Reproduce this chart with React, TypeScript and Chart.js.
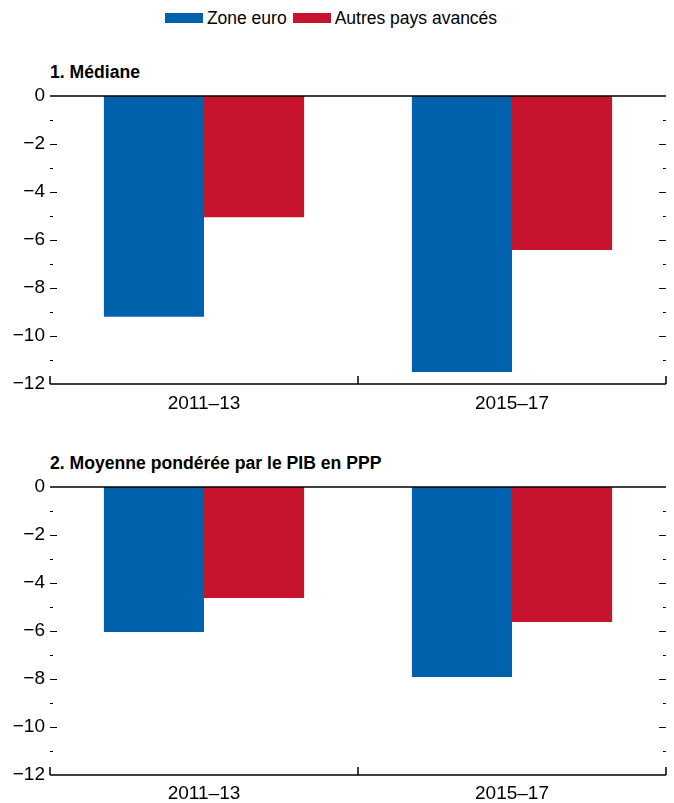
import React, { useEffect, useRef } from "react";
import { Chart, registerables } from "chart.js";

Chart.register(...registerables);

const categories = ["2011–13", "2015–17"];
const seriesNames = ["Zone euro", "Autres pays avancés"];
const seriesColors = ["#0062AD", "#C8132F"];

const medianeZoneEuro = [-9.2, -11.5];
const medianeAutres = [-5.05, -6.42];

const moyenneZoneEuro = [-6.04, -7.92];
const moyenneAutres = [-4.63, -5.63];

const yMin = -12;
const yMax = 0;
const yStep = 1;
const yLabelEvery = 2;

const panelTitles = ["1. Médiane", "2. Moyenne pondérée par le PIB en PPP"];

const NUM_FONT = "'Liberation Sans', Arial, sans-serif";

const fmt = (v: number) => (v === 0 ? "0" : (v < 0 ? "\u2212" : "") + Math.abs(v));

const axisPlugin = {
  id: "imfAxes",
  afterDatasetsDraw(chart: any) {
    const { ctx, chartArea, scales } = chart;
    const y = scales.y;
    const x = scales.x;
    const L = chartArea.left;
    const R = chartArea.right;
    ctx.save();
    ctx.strokeStyle = "#000";
    ctx.lineWidth = 1.5;
    const y0 = y.getPixelForValue(0);
    const yb = y.getPixelForValue(yMin);
    ctx.beginPath();
    ctx.moveTo(L, y0);
    ctx.lineTo(R, y0);
    ctx.moveTo(L, yb);
    ctx.lineTo(R, yb);
    ctx.stroke();
    ctx.lineWidth = 1.2;
    for (let v = yMin + yStep; v < yMax; v += yStep) {
      const py = Math.round(y.getPixelForValue(v)) + 0.5;
      const len = v % yLabelEvery === 0 ? 7 : 3;
      ctx.beginPath();
      ctx.moveTo(L, py);
      ctx.lineTo(L + len, py);
      ctx.moveTo(R, py);
      ctx.lineTo(R - len, py);
      ctx.stroke();
    }
    ctx.lineWidth = 1.5;
    const mids = [L, R];
    for (let i = 0; i < categories.length - 1; i++) {
      mids.push((x.getPixelForTick(i) + x.getPixelForTick(i + 1)) / 2);
    }
    ctx.beginPath();
    mids.forEach((px) => {
      const rx = Math.round(px);
      ctx.moveTo(rx, yb);
      ctx.lineTo(rx, yb - 8);
    });
    ctx.stroke();
    ctx.restore();
  },
};

function makeConfig(a: number[], b: number[], xHeight: number, xPad: number) {
  return {
    type: "bar" as const,
    data: {
      labels: categories,
      datasets: [
        { label: seriesNames[0], data: a, backgroundColor: seriesColors[0], borderWidth: 0 },
        { label: seriesNames[1], data: b, backgroundColor: seriesColors[1], borderWidth: 0 },
      ],
    },
    options: {
      animation: false as const,
      responsive: false,
      maintainAspectRatio: false,
      layout: { padding: { left: 0, right: 8, top: 10, bottom: 0 } },
      datasets: { bar: { categoryPercentage: 0.65, barPercentage: 1.0 } },
      plugins: { legend: { display: false }, title: { display: false }, tooltip: { enabled: false } },
      scales: {
        x: {
          grid: { display: false, drawTicks: false },
          border: { display: false },
          ticks: { color: "#000", font: { family: NUM_FONT, size: 19 }, padding: xPad, maxRotation: 0 },
          afterFit: (s: any) => {
            s.height = xHeight;
            s.paddingLeft = 0;
            s.paddingRight = 0;
          },
        },
        y: {
          min: yMin,
          max: yMax,
          grid: { display: false, drawTicks: false },
          border: { display: false },
          ticks: {
            stepSize: yStep,
            autoSkip: false,
            color: "#000",
            padding: 5,
            font: { family: NUM_FONT, size: 19 },
            callback: (v: any) => (Number(v) % yLabelEvery === 0 ? fmt(Number(v)) : ""),
          },
          afterFit: (s: any) => {
            s.width = 50;
            s.paddingTop = 0;
            s.paddingBottom = 0;
          },
        },
      },
    },
    plugins: [axisPlugin],
  };
}

function Panel(props: { a: number[]; b: number[]; top: number; height: number; xHeight: number; xPad: number }) {
  const ref = useRef<HTMLCanvasElement | null>(null);
  useEffect(() => {
    if (!ref.current) return;
    const chart = new Chart(ref.current, makeConfig(props.a, props.b, props.xHeight, props.xPad) as any);
    return () => chart.destroy();
  }, []);
  return (
    <canvas
      ref={ref}
      width={674}
      height={props.height}
      style={{ position: "absolute", left: 0, top: props.top, width: 674, height: props.height }}
    />
  );
}

export default function App() {
  const titleStyle: React.CSSProperties = {
    position: "absolute",
    left: 50,
    fontFamily: NUM_FONT,
    fontWeight: "bold",
    fontSize: 17.6,
    lineHeight: "22px",
    color: "#000",
    whiteSpace: "nowrap",
  };
  const box = (c: string): React.CSSProperties => ({
    display: "inline-block",
    width: 38,
    height: 10,
    background: c,
    marginRight: 4,
  });
  return (
    <div style={{ position: "absolute", left: 0, top: 0, width: 674, height: 803, background: "#fff", overflow: "hidden" }}>
      <div
        style={{
          position: "absolute",
          left: 0,
          top: 6,
          width: 662,
          height: 24,
          display: "flex",
          justifyContent: "center",
          alignItems: "center",
          fontFamily: NUM_FONT,
          fontSize: 17.5,
          color: "#000",
          whiteSpace: "nowrap",
        }}
      >
        <span style={box(seriesColors[0])} />
        <span style={{ marginRight: 6 }}>{seriesNames[0]}</span>
        <span style={box(seriesColors[1])} />
        <span>{seriesNames[1]}</span>
      </div>
      <div style={{ ...titleStyle, top: 61 }}>{panelTitles[0]}</div>
      <Panel a={medianeZoneEuro} b={medianeAutres} top={86} height={330} xHeight={32} xPad={8} />
      <div style={{ ...titleStyle, top: 452 }}>{panelTitles[1]}</div>
      <Panel a={moyenneZoneEuro} b={moyenneAutres} top={477} height={326} xHeight={28} xPad={7} />
    </div>
  );
}
